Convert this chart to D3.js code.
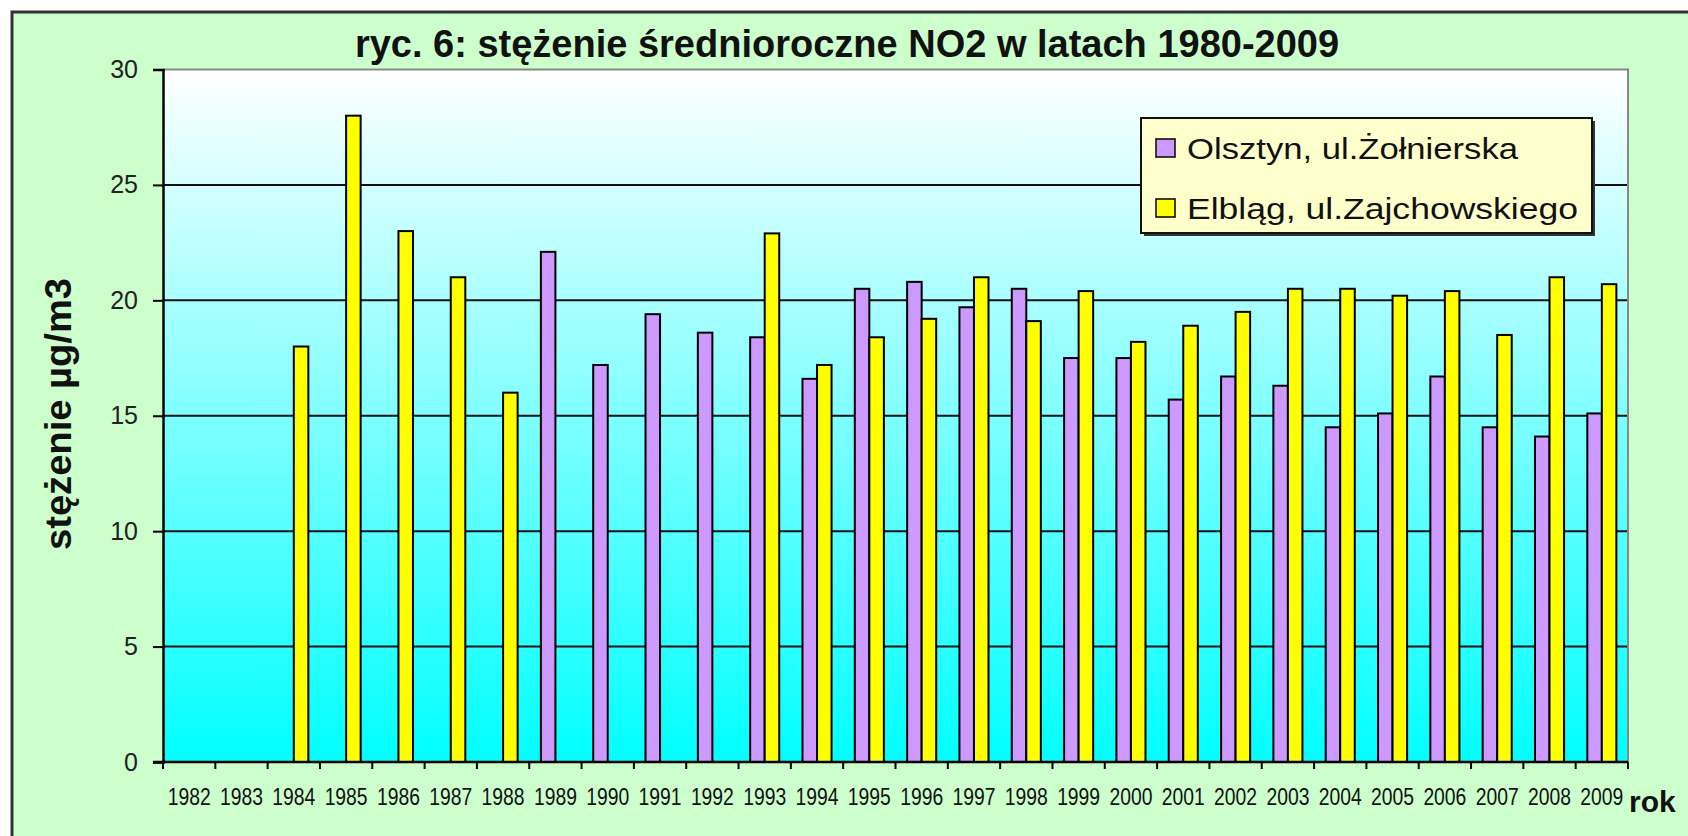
<!DOCTYPE html>
<html>
<head>
<meta charset="utf-8">
<script src="https://cdn.jsdelivr.net/npm/d3@7"></script>
<style>
  html, body { margin: 0; padding: 0; background: #ffffff; }
  svg { display: block; }
</style>
</head>
<body>
<svg id="chart" width="1688" height="836"></svg>
<script>
// ---- data ----
const years = ["1982","1983","1984","1985","1986","1987","1988","1989","1990","1991","1992","1993","1994","1995","1996","1997","1998","1999","2000","2001","2002","2003","2004","2005","2006","2007","2008","2009"];
const olsztyn = [null,null,null,null,null,null,null,22.1,17.2,19.4,18.6,18.4,16.6,20.5,20.8,19.7,20.5,17.5,17.5,15.7,16.7,16.3,14.5,15.1,16.7,14.5,14.1,15.1];
const elblag = [null,null,18.0,28.0,23.0,21.0,16.0,null,null,null,null,22.9,17.2,18.4,19.2,21.0,19.1,20.4,18.2,18.9,19.5,20.5,20.5,20.2,20.4,18.5,21.0,20.7];
const seriesNames = ["Olsztyn, ul.Żołnierska", "Elbląg, ul.Zajchowskiego"];
const seriesColors = ["#cc99ff", "#ffff00"];
const yTicks = [0, 5, 10, 15, 20, 25, 30];
const titleText = "ryc. 6: stężenie średnioroczne NO2 w latach 1980-2009";
const yTitle = "stężenie  µg/m3";
const xTitle = "rok";

// ---- layout ----
const svg = d3.select("#chart");
const L = 163, R = 1628, T = 69.5, B = 762;
const FONT = "Arial, 'Liberation Sans', sans-serif";

// outer chart area
svg.append("rect").attr("x", 12).attr("y", 12).attr("width", 1700).attr("height", 850)
  .attr("fill", "#ccffcc").attr("stroke", "#333").attr("stroke-width", 3);

const defs = svg.append("defs");
const grad = defs.append("linearGradient").attr("id", "plotbg")
  .attr("x1", 0).attr("y1", 0).attr("x2", 0).attr("y2", 1);
grad.append("stop").attr("offset", "0%").attr("stop-color", "#ffffff");
grad.append("stop").attr("offset", "100%").attr("stop-color", "#00ffff");

svg.append("rect").attr("x", L).attr("y", T).attr("width", R - L).attr("height", B - T)
  .attr("fill", "url(#plotbg)");

// scales
const y = d3.scaleLinear().domain([0, 30]).range([B, T]);
const x0 = d3.scaleBand().domain(years).range([L, R]).padding(0);
const x1 = d3.scaleBand().domain([0, 1]).range([0, x0.bandwidth()]).paddingInner(0).paddingOuter(0.8);

// gridlines
svg.append("g").selectAll("line").data(yTicks.filter(d => d > 0 && d < 30)).join("line")
  .attr("x1", L).attr("x2", R).attr("y1", d => y(d)).attr("y2", d => y(d))
  .attr("stroke", "#111").attr("stroke-width", 2);

// plot border top / right
svg.append("path").attr("d", `M${L},${T}H${R}V${B}`).attr("fill", "none")
  .attr("stroke", "#888").attr("stroke-width", 2);

// bars
const data = years.map((yr, i) => ({ yr, vals: [olsztyn[i], elblag[i]] }));
const groups = svg.append("g").selectAll("g").data(data).join("g")
  .attr("transform", d => `translate(${x0(d.yr)},0)`);
groups.selectAll("rect").data(d => d.vals.map((v, k) => ({ v, k })).filter(e => e.v != null)).join("rect")
  .attr("x", e => x1(e.k)).attr("width", x1.bandwidth())
  .attr("y", e => y(e.v)).attr("height", e => y(0) - y(e.v))
  .attr("fill", e => seriesColors[e.k]).attr("stroke", "#000").attr("stroke-width", 2);

// y axis
const yAxis = d3.axisLeft(y).tickValues(yTicks).tickSize(10).tickPadding(15).tickFormat(d3.format("d"));
const gy = svg.append("g").attr("transform", `translate(${L},0)`).call(yAxis);
gy.select(".domain").attr("stroke", "#000").attr("stroke-width", 2.5);
gy.selectAll(".tick line").attr("stroke", "#000").attr("stroke-width", 2);
gy.selectAll(".tick text").attr("font-family", FONT)
  .attr("font-size", 25).attr("fill", "#222");

// x axis
const xAxis = d3.axisBottom(x0).tickSize(0).tickPadding(0);
const gx = svg.append("g").attr("transform", `translate(0,${B})`).call(xAxis);
gx.select(".domain").remove();
gx.selectAll(".tick text").attr("font-family", FONT)
  .attr("font-size", 23).attr("fill", "#111").attr("dy", 0).attr("y", 43)
  .attr("textLength", 43).attr("lengthAdjust", "spacingAndGlyphs");
svg.append("line").attr("x1", L - 10).attr("x2", R).attr("y1", B).attr("y2", B)
  .attr("stroke", "#000").attr("stroke-width", 2.5);
const bounds = years.map(yr => x0(yr)).concat([R]);
svg.append("g").selectAll("line").data(bounds).join("line")
  .attr("x1", d => d).attr("x2", d => d).attr("y1", B).attr("y2", B + 7)
  .attr("stroke", "#000").attr("stroke-width", 2);

// title
svg.append("text").attr("x", 847).attr("y", 57).attr("text-anchor", "middle")
  .attr("font-family", FONT).attr("font-weight", "bold")
  .attr("font-size", 38).attr("fill", "#111").text(titleText);

// y title
svg.append("text").attr("transform", "translate(71,414) rotate(-90)").attr("text-anchor", "middle")
  .attr("font-family", FONT).attr("font-weight", "bold")
  .attr("font-size", 36).attr("fill", "#111")
  .attr("textLength", 272).attr("lengthAdjust", "spacingAndGlyphs").text(yTitle);

// x title
svg.append("text").attr("x", 1629).attr("y", 812)
  .attr("font-family", FONT).attr("font-weight", "bold")
  .attr("font-size", 30).attr("fill", "#111").text(xTitle);

// legend
const lg = svg.append("g").attr("transform", "translate(1141,118)");
lg.append("rect").attr("x", 3).attr("y", 3).attr("width", 451).attr("height", 115).attr("fill", "#333");
lg.append("rect").attr("x", 0).attr("y", 0).attr("width", 451).attr("height", 115)
  .attr("fill", "#ffffcc").attr("stroke", "#111").attr("stroke-width", 2);
const rowY = [30, 90];
const textLen = [331, 391];
seriesNames.forEach((name, i) => {
  lg.append("rect").attr("x", 15).attr("y", rowY[i] - 9).attr("width", 19).attr("height", 18)
    .attr("fill", seriesColors[i]).attr("stroke", "#111").attr("stroke-width", 1.6);
  lg.append("text").attr("x", 46).attr("y", rowY[i] + 11)
    .attr("font-family", FONT).attr("font-size", 30).attr("fill", "#111")
    .attr("textLength", textLen[i]).attr("lengthAdjust", "spacingAndGlyphs").text(name);
});
</script>
</body>
</html>
